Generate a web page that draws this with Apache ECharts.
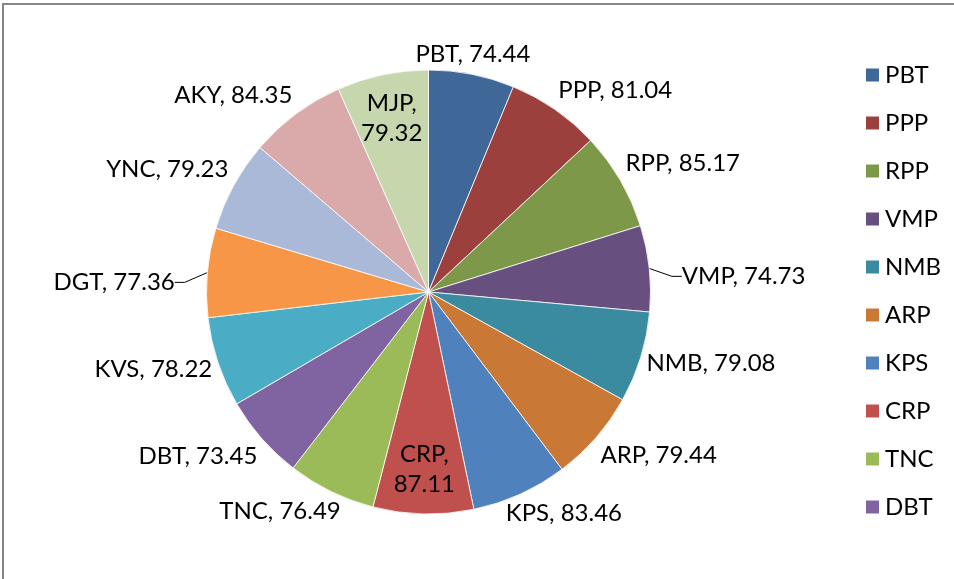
<!DOCTYPE html>
<html>
<head>
<meta charset="utf-8">
<script src="https://cdn.jsdelivr.net/npm/echarts@6/dist/echarts.min.js"></script>
<style>
html,body{margin:0;padding:0;background:#fff;}
#chart{width:954px;height:579px;}
</style>
</head>
<body>
<div id="chart"></div>
<script>
const categories = ['PBT','PPP','RPP','VMP','NMB','ARP','KPS','CRP','TNC','DBT','KVS','DGT','YNC','AKY','MJP'];
const values = [74.44,81.04,85.17,74.73,79.08,79.44,83.46,87.11,76.49,73.45,78.22,77.36,79.23,84.35,79.32];
const colors = ['#3F6797','#9C403D','#7D9848','#67507F','#3A8AA0','#C97836','#4F81BD','#C0504D','#9BBB59','#8064A2','#4BACC6','#F79646','#AAB9D7','#D9AAA9','#C6D6AD'];
const legendNames = categories.slice(0, 10);
const insideLabels = ['MJP','CRP'];
const leaderLabels = ['VMP','DGT'];

const FONT = 'Lato';
const FS = 24;
const CX = 428.5, CY = 292, R = 222;
const total = values.reduce((a,b)=>a+b,0);

const chart = echarts.init(document.getElementById('chart'), null, {renderer:'canvas'});

const data = categories.map((name, i) => {
  const item = {name: name, value: values[i], itemStyle: {color: colors[i]}};
  if (insideLabels.includes(name)) {
    item.label = {position: 'inside', formatter: '{b},\n{c}', lineHeight: 30};
  }
  if (leaderLabels.includes(name)) {
    item.labelLine = {show: true};
  }
  return item;
});

function midAngle(i) {
  let s = 0;
  for (let k = 0; k < i; k++) s += values[k];
  return (s + values[i] / 2) / total * Math.PI * 2;
}
function sat(t) {
  const m = Math.min(1, Math.max(0, (Math.abs(t) - 0.2) / 0.3));
  return t < 0 ? -m : m;
}

const option = {
  animation: false,
  backgroundColor: '#fff',
  graphic: [{
    type: 'rect',
    shape: {x: 3, y: 4, width: 1200, height: 1200},
    style: {fill: 'none', stroke: '#868686', lineWidth: 2},
    silent: true
  }],
  legend: {
    orient: 'vertical',
    left: 859,
    top: 58,
    padding: 5,
    data: legendNames,
    icon: 'rect',
    itemWidth: 15,
    itemHeight: 15,
    itemGap: 24,
    textStyle: {fontFamily: FONT, fontSize: FS, color: '#000', lineHeight: 24},
    selectedMode: false
  },
  series: [{
    type: 'pie',
    center: [CX, CY],
    radius: R,
    startAngle: 90,
    clockwise: true,
    avoidLabelOverlap: false,
    itemStyle: {borderColor: '#fff', borderWidth: 0.8},
    label: {
      show: true,
      position: 'outside',
      formatter: '{b}, {c}',
      fontFamily: FONT,
      fontSize: FS,
      lineHeight: 28,
      color: '#000'
    },
    labelLine: {show: false, length: 10, length2: 10, lineStyle: {color: '#000', width: 1}},
    labelLayout: function (p) {
      const i = p.dataIndex;
      const name = categories[i];
      const a = midAngle(i);
      const ux = Math.sin(a), uy = -Math.cos(a);
      const w = p.labelRect.width, h = p.labelRect.height;
      if (insideLabels.includes(name)) {
        const d = R * 0.8;
        return {x: CX + ux * d, y: CY + uy * d, align: 'center', verticalAlign: 'middle'};
      }
      if (leaderLabels.includes(name)) {
        const support = Math.abs(ux) * w / 2 + Math.abs(uy) * h / 2;
        const d = R + support + 32;
        return {x: CX + ux * d, y: CY + uy * d + 18, align: 'center', verticalAlign: 'middle'};
      }
      const d = R + 6;
      return {
        x: CX + ux * d + sat(ux) * w / 2,
        y: CY + uy * d + sat(uy) * h / 2,
        align: 'center', verticalAlign: 'middle'
      };
    },
    data: data
  }]
};
chart.setOption(option);
</script>
</body>
</html>
